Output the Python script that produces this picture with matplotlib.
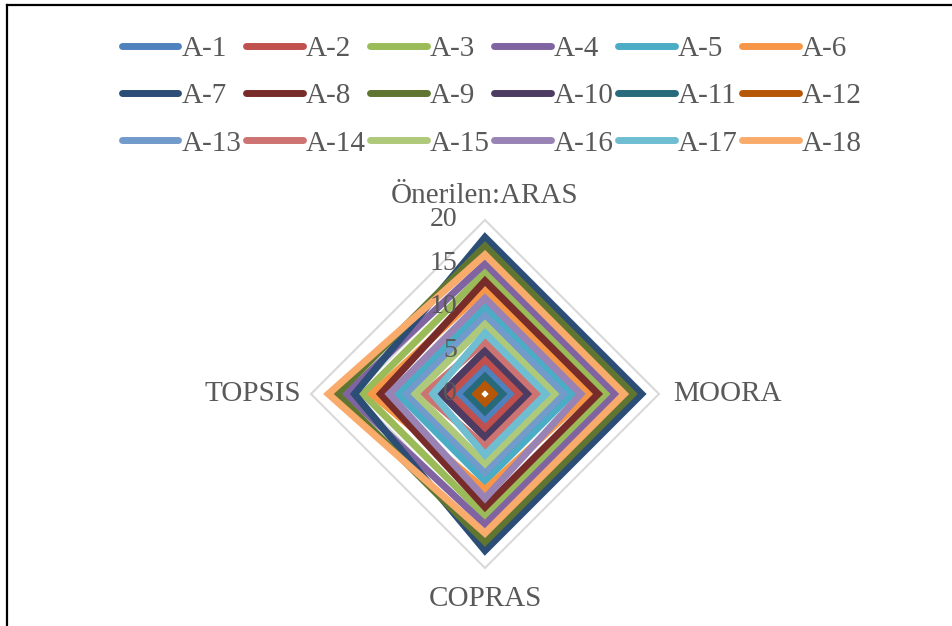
import numpy as np
import matplotlib
matplotlib.use('Agg')
import matplotlib.pyplot as plt
from matplotlib.lines import Line2D

# criteria (axes of the radar), clockwise from the top
criteria = ['Önerilen:ARAS', 'MOORA', 'COPRAS', 'TOPSIS']
series = ['A-%d' % i for i in range(1, 19)]

# rank values per method, A-1 .. A-18
aras = [3, 4, 14, 15, 10, 12, 18, 13, 17, 5, 2, 1, 9, 6, 8, 11, 7, 16]
moora = [3, 4, 14, 15, 10, 12, 18, 13, 17, 5, 2, 1, 9, 6, 8, 11, 7, 16]
copras = [3, 4, 14, 15, 10, 11, 18, 13, 17, 5, 2, 1, 9, 6, 8, 12, 7, 16]
topsis = [3, 4, 14, 16, 10, 13, 15, 12, 17, 5, 2, 1, 9, 7, 8, 11, 6, 18]

ticks = [0, 5, 10, 15, 20]

colors = ['#4F81BD', '#C0504D', '#9BBB59', '#8064A2', '#4BACC6', '#F79646',
          '#2C4D75', '#772C2A', '#5F7530', '#4D3B62', '#276A7C', '#B65708',
          '#729ACA', '#CD7371', '#AFC97A', '#9983B5', '#6FBDD1', '#F9AB6B']

txt = '#595959'
plt.rcParams['font.family'] = ['Liberation Serif', 'DejaVu Serif']

fig = plt.figure(figsize=(9.53, 6.26), dpi=100)
ax = fig.add_axes([0.3263, 0.0927, 0.3652, 0.5559], projection='polar')
ax.set_theta_zero_location('N')
ax.set_theta_direction(-1)
ax.set_ylim(0, 20)
ax.grid(False)
ax.spines['polar'].set_visible(False)
ax.set_xticks([])
ax.set_yticks([])
ax.patch.set_alpha(0)

angles = np.linspace(0, 2 * np.pi, len(criteria), endpoint=False)

# gridlines (polygons)
for r in ticks[1:]:
    ax.fill(angles, [r] * len(angles), facecolor='none', edgecolor='#D9D9D9',
            lw=1.5, clip_on=False, zorder=1)

values = np.array([aras, moora, copras, topsis]).T
for i, name in enumerate(series):
    ax.fill(angles, values[i], facecolor='none', edgecolor=colors[i],
            lw=5.1, joinstyle='miter', clip_on=False, zorder=2)

# value labels along the top axis
for r in ticks:
    ax.annotate(str(r), xy=(0, r), xytext=(-20, 0), textcoords='offset points',
                ha='right', va='center', fontsize=20, color=txt, zorder=5)

# criteria labels
offs = [(0, 17, 'center'), (10, 0, 'left'), (0, -22, 'center'), (-7, 0, 'right')]
for ang, lab, (dx, dy, ha) in zip(angles, criteria, offs):
    ax.annotate(lab, xy=(ang, 20), xytext=(dx, dy), textcoords='offset points',
                ha=ha, va='center', fontsize=21, color=txt, annotation_clip=False)

# legend: 3 rows x 6 columns, filled row by row
handles = [Line2D([], [], color=c, lw=5, solid_capstyle='round') for c in colors]
ncol, nrow = 6, 3
order = [r * ncol + c for c in range(ncol) for r in range(nrow)]
fig.legend([handles[k] for k in order], [series[k] for k in order],
           loc='upper center', bbox_to_anchor=(0.516, 0.962),
           ncol=ncol, frameon=False, fontsize=21, labelcolor=txt,
           handlelength=1.95, handletextpad=0.1, columnspacing=0.15,
           labelspacing=0.72, borderaxespad=0)

# chart border (left and top edges visible)
fig.add_artist(Line2D([0.0073, 0.0073], [0, 0.992], color='black', lw=1.6,
                      transform=fig.transFigure))
fig.add_artist(Line2D([0.0073, 1], [0.992, 0.992], color='black', lw=1.6,
                      transform=fig.transFigure))

fig.savefig('out.png', dpi=100)
